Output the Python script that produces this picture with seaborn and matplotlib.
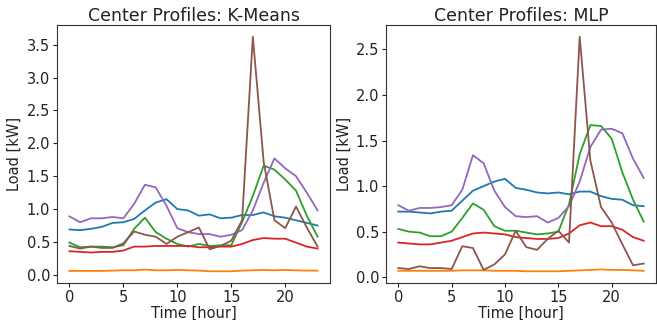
import numpy as np
import pandas as pd
import matplotlib
matplotlib.use("Agg")
import matplotlib.pyplot as plt
import seaborn as sns

hours = list(range(24))
clusters = ["0", "1", "2", "3", "4", "5"]

kmeans_c0 = [0.69, 0.68, 0.70, 0.73, 0.79, 0.80, 0.85, 0.98, 1.10, 1.15, 1.00, 0.98,
             0.90, 0.92, 0.86, 0.87, 0.91, 0.91, 0.95, 0.89, 0.87, 0.83, 0.79, 0.75]
kmeans_c1 = [0.06, 0.06, 0.06, 0.06, 0.065, 0.07, 0.07, 0.08, 0.07, 0.07, 0.075, 0.07,
             0.065, 0.055, 0.055, 0.055, 0.065, 0.07, 0.075, 0.07, 0.075, 0.07, 0.065, 0.065]
kmeans_c2 = [0.49, 0.42, 0.43, 0.43, 0.42, 0.45, 0.70, 0.87, 0.65, 0.55, 0.47, 0.43,
             0.47, 0.44, 0.45, 0.45, 0.80, 1.20, 1.66, 1.60, 1.45, 1.28, 0.90, 0.58]
kmeans_c3 = [0.36, 0.35, 0.34, 0.35, 0.35, 0.37, 0.43, 0.43, 0.44, 0.44, 0.44, 0.44,
             0.42, 0.42, 0.43, 0.43, 0.47, 0.53, 0.56, 0.55, 0.55, 0.49, 0.43, 0.40]
kmeans_c4 = [0.89, 0.80, 0.86, 0.86, 0.88, 0.86, 1.08, 1.37, 1.33, 1.05, 0.71, 0.65,
             0.62, 0.62, 0.58, 0.61, 0.68, 0.98, 1.40, 1.77, 1.62, 1.50, 1.25, 0.98]
kmeans_c5 = [0.44, 0.40, 0.43, 0.41, 0.41, 0.48, 0.66, 0.61, 0.58, 0.47, 0.58, 0.65,
             0.72, 0.39, 0.44, 0.52, 0.83, 3.62, 1.72, 0.83, 0.71, 1.04, 0.72, 0.43]

mlp_c0 = [0.72, 0.72, 0.71, 0.70, 0.72, 0.73, 0.84, 0.95, 1.00, 1.05, 1.08, 0.98,
          0.96, 0.93, 0.92, 0.93, 0.91, 0.94, 0.94, 0.89, 0.86, 0.85, 0.79, 0.78]
mlp_c1 = [0.07, 0.07, 0.07, 0.07, 0.07, 0.07, 0.075, 0.075, 0.075, 0.07, 0.07, 0.07,
          0.065, 0.065, 0.065, 0.065, 0.07, 0.075, 0.08, 0.085, 0.08, 0.08, 0.075, 0.07]
mlp_c2 = [0.53, 0.50, 0.49, 0.45, 0.45, 0.50, 0.65, 0.81, 0.74, 0.56, 0.51, 0.51,
          0.49, 0.47, 0.48, 0.50, 0.80, 1.35, 1.67, 1.66, 1.52, 1.15, 0.85, 0.61]
mlp_c3 = [0.38, 0.37, 0.36, 0.36, 0.38, 0.40, 0.44, 0.48, 0.49, 0.48, 0.47, 0.44,
          0.43, 0.42, 0.42, 0.43, 0.48, 0.57, 0.60, 0.56, 0.56, 0.52, 0.44, 0.40]
mlp_c4 = [0.79, 0.73, 0.76, 0.76, 0.77, 0.79, 0.96, 1.34, 1.25, 0.95, 0.77, 0.67,
          0.66, 0.67, 0.60, 0.65, 0.78, 1.05, 1.43, 1.62, 1.63, 1.58, 1.30, 1.09]
mlp_c5 = [0.10, 0.09, 0.12, 0.10, 0.10, 0.09, 0.34, 0.32, 0.08, 0.14, 0.25, 0.51,
          0.33, 0.30, 0.42, 0.51, 0.38, 2.64, 1.28, 0.77, 0.60, 0.36, 0.13, 0.15]

kmeans = [kmeans_c0, kmeans_c1, kmeans_c2, kmeans_c3, kmeans_c4, kmeans_c5]
mlp = [mlp_c0, mlp_c1, mlp_c2, mlp_c3, mlp_c4, mlp_c5]


def to_long(series):
    rows = []
    for c, vals in zip(clusters, series):
        for h, v in zip(hours, vals):
            rows.append({"hour": h, "load": v, "cluster": c})
    return pd.DataFrame(rows)


plt.rcParams["font.family"] = ["DejaVu Sans"]
fig = plt.figure(figsize=(6.57, 3.2), dpi=100)
ax1 = fig.add_axes([57 / 657, 37 / 320, 273 / 657, 258 / 320])
ax2 = fig.add_axes([386 / 657, 37 / 320, 270 / 657, 258 / 320])

palette = sns.color_palette("tab10", 6)
for ax, series, title in [(ax1, kmeans, "Center Profiles: K-Means"),
                          (ax2, mlp, "Center Profiles: MLP")]:
    sns.lineplot(data=to_long(series), x="hour", y="load", hue="cluster",
                 palette=palette, legend=False, ax=ax, linewidth=1.3)
    ax.set_title(title, fontsize=12.5, color="#222222", pad=3)
    ax.set_xlabel("Time [hour]", fontsize=10.5, color="#222222")
    ax.set_ylabel("Load [kW]", fontsize=10.5, color="#222222")
    ax.xaxis.set_label_coords(0.5, -0.088)
    ax.tick_params(labelsize=10.5, colors="#222222", length=3, pad=2)
    ax.set_xticks([0, 5, 10, 15, 20])
    for s in ax.spines.values():
        s.set_color("#333333")
        s.set_linewidth(0.8)

ax1.yaxis.set_label_coords(-0.128, 0.5)
ax2.yaxis.set_label_coords(-0.126, 0.5)
ax1.set_yticks([0.0, 0.5, 1.0, 1.5, 2.0, 2.5, 3.0, 3.5])
ax2.set_yticks([0.0, 0.5, 1.0, 1.5, 2.0, 2.5])

fig.savefig("out.png", dpi=100)
